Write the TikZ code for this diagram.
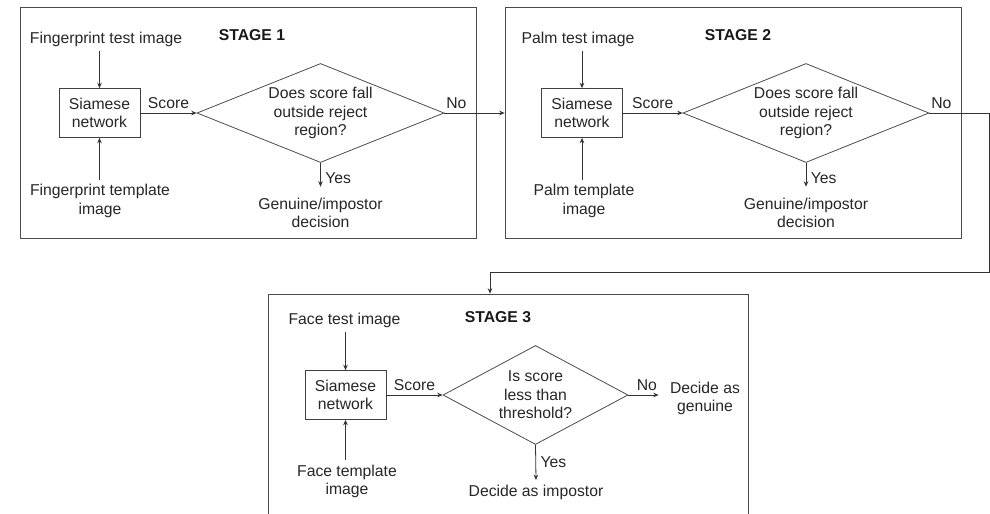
\documentclass[tikz,border=0pt]{standalone}
\usepackage{fontspec}
\setmainfont{Liberation Sans}
\usetikzlibrary{arrows.meta,positioning,shapes.geometric}
\newcommand{\figfont}{\fontsize{11.8}{13.8}\selectfont}

\begin{document}
\begin{tikzpicture}[x=0.75pt, y=-0.75pt,
  frame/.style={draw=black!70, line width=0.6pt, inner sep=0pt},
  net/.style={draw=black!75, line width=0.6pt, minimum width=60.75pt, minimum height=36.75pt, align=center, font=\figfont, text=black!85},
  txt/.style={align=center, font=\figfont, text=black!85},
  title/.style={font=\figfont\bfseries, text=black!90},
  query/.style={diamond, draw=black!70, line width=0.6pt, inner sep=0pt, minimum height=74.25pt, align=center, font=\figfont, text=black!85},
  arrow/.style={-{Stealth[length=4pt,width=3.4pt]}, draw=black!80, line width=0.6pt}
]
\useasboundingbox (0,0) rectangle (990,514);

% stage frames
\node[frame, minimum width=342pt, minimum height=173.25pt] (frame1) at (248,122.5) {};
\node[frame, minimum width=342pt, minimum height=173.25pt] (frame2) at (733,122.5) {};
\node[frame, minimum width=360pt, minimum height=177pt] (frame3) at (508,412) {};

% stage 1
\node[title] (st1) at (252,35) {STAGE 1};
\node[txt] (test1) at (106,39) {Fingerprint test image};
\node[net] (net1) at (99.5,113) {Siamese\\network};
\node[txt] (tmpl1) at (100,201) {Fingerprint template\\image};
\node[query, aspect=2.5, minimum width=185.25pt] (dec1) at (320.5,113) {Does score fall\\outside reject\\region?};
\node[txt] (out1) at (320.5,213) {Genuine/impostor\\decision};

% stage 2
\node[title] (st2) at (738,35) {STAGE 2};
\node[txt] (test2) at (578,39) {Palm test image};
\node[net] (net2) at (582,113) {Siamese\\network};
\node[txt] (tmpl2) at (584,201) {Palm template\\image};
\node[query, aspect=2.5, minimum width=184.5pt] (dec2) at (806,113) {Does score fall\\outside reject\\region?};
\node[txt] (out2) at (806,213) {Genuine/impostor\\decision};

% stage 3
\node[title] (st3) at (498,317) {STAGE 3};
\node[txt] (test3) at (344.5,320) {Face test image};
\node[net] (net3) at (345.5,395) {Siamese\\network};
\node[txt] (tmpl3) at (347,481.5) {Face template\\image};
\node[query, aspect=1.9, minimum width=138.75pt] (dec3) at (535.5,395) {Is score\\less than\\threshold?};
\node[txt] (gen3) at (705,398.5) {Decide as\\genuine};
\node[txt] (imp3) at (536,492) {Decide as impostor};

\coordinate (loop) at (989,272);
\coordinate (drop) at (490,272);

% connectors
\draw[arrow] (test1.south -| net1) -- (net1.north);
\draw[arrow] (tmpl1.north -| net1) -- (net1.south);
\draw[arrow] (net1.east) -- node[midway, above, txt] {Score} (dec1.west);
\draw[arrow, shorten >=5pt] (dec1.south) -- node[midway, right, txt] {Yes} (out1.north);
\draw[arrow] (dec1.east) -- node[pos=0.2, above, txt] {No} (dec1.east -| frame2.west);

\draw[arrow] (test2.south -| net2) -- (net2.north);
\draw[arrow] (tmpl2.north -| net2) -- (net2.south);
\draw[arrow] (net2.east) -- node[midway, above, txt] {Score} (dec2.west);
\draw[arrow, shorten >=5pt] (dec2.south) -- node[midway, right, txt] {Yes} (out2.north);
\draw[arrow] (dec2.east) -- node[pos=0.2, above, txt] {No} (loop |- dec2.east) -- (loop) -- (drop) -- (drop |- frame3.north);

\draw[arrow] (test3.south -| net3) -- (net3.north);
\draw[arrow] (tmpl3.north -| net3) -- (net3.south);
\draw[arrow] (net3.east) -- node[midway, above, txt] {Score} (dec3.west);
\draw[arrow] (dec3.south) -- node[midway, right, txt] {Yes} (imp3.north);
\draw[arrow, shorten >=5pt] (dec3.east) -- node[midway, above, txt] {No} (dec3.east -| gen3.west);

\end{tikzpicture}
\end{document}
